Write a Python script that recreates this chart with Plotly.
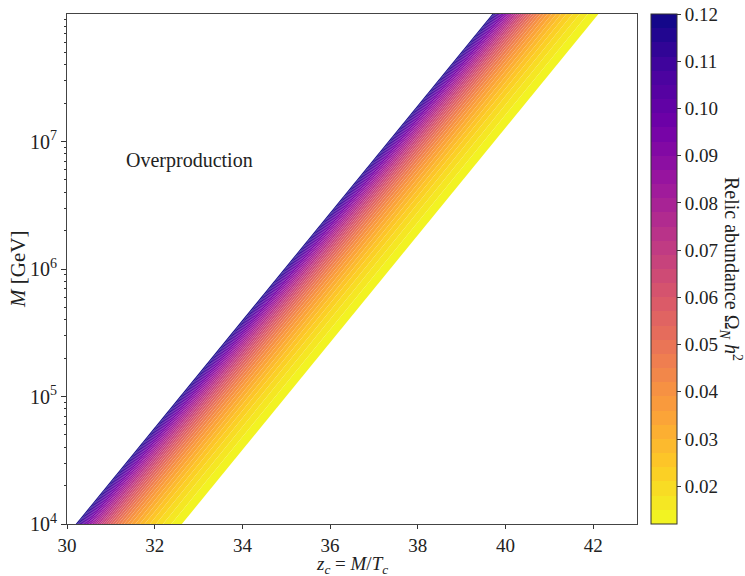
import plotly.graph_objects as go

# ---- data ----
# contour levels of the relic abundance (colorbar boundaries)
levels = [0.012, 0.015, 0.018, 0.021, 0.024, 0.027, 0.030, 0.033, 0.036, 0.039,
          0.042, 0.045, 0.048, 0.051, 0.054, 0.057, 0.060, 0.063, 0.066, 0.069,
          0.072, 0.075, 0.078, 0.081, 0.084, 0.087, 0.090, 0.093, 0.096, 0.099,
          0.102, 0.105, 0.108, 0.111, 0.114, 0.117, 0.120]
# z_c where each level crosses M = 1e4 GeV
z_at_low = [32.62, 32.38, 32.19, 32.03, 31.89, 31.77, 31.66, 31.56, 31.46, 31.38,
            31.30, 31.23, 31.16, 31.10, 31.04, 30.98, 30.93, 30.88, 30.83, 30.78,
            30.74, 30.69, 30.65, 30.61, 30.57, 30.54, 30.50, 30.47, 30.43, 30.40,
            30.37, 30.34, 30.31, 30.28, 30.25, 30.23, 30.20]
# z_c where each level crosses M = 1e8 GeV
z_at_high = [42.12, 41.88, 41.69, 41.53, 41.39, 41.27, 41.16, 41.06, 40.96, 40.88,
             40.80, 40.73, 40.66, 40.60, 40.54, 40.48, 40.43, 40.38, 40.33, 40.28,
             40.24, 40.19, 40.15, 40.11, 40.07, 40.04, 40.00, 39.97, 39.93, 39.90,
             39.87, 39.84, 39.81, 39.78, 39.75, 39.73, 39.70]
M_low, M_high = 1e4, 1e8

cbar_ticks = [0.02, 0.03, 0.04, 0.05, 0.06, 0.07, 0.08, 0.09, 0.10, 0.11, 0.12]
y_ticks = [1e4, 1e5, 1e6, 1e7]
y_ticktext = ["10<sup>4</sup>", "10<sup>5</sup>", "10<sup>6</sup>", "10<sup>7</sup>"]
x_ticks = [30, 32, 34, 36, 38, 40, 42]

# ---- plasma colormap (reversed use) ----
plasma = ['#0d0887', '#46039f', '#7201a8', '#9c179e', '#bd3786',
          '#d8576b', '#ed7953', '#fb9f3a', '#fdca26', '#f0f921']


def hex2rgb(h):
    h = h.lstrip('#')
    return tuple(int(h[i:i + 2], 16) for i in (0, 2, 4))


def plasma_at(t):
    t = min(max(t, 0.0), 1.0)
    p = t * (len(plasma) - 1)
    i = min(int(p), len(plasma) - 2)
    f = p - i
    a, b = hex2rgb(plasma[i]), hex2rgb(plasma[i + 1])
    c = [round(a[k] + (b[k] - a[k]) * f) for k in range(3)]
    return f"rgb({c[0]},{c[1]},{c[2]})"


vmin, vmax = levels[0], levels[-1]
nb = len(levels) - 1
band_colors = []
for i in range(nb):
    mid = 0.5 * (levels[i] + levels[i + 1])
    t = (mid - vmin) / (vmax - vmin)
    band_colors.append(plasma_at(1 - t))  # plasma_r

fig = go.Figure()
for i in range(nb):
    fig.add_trace(go.Scatter(
        x=[z_at_low[i], z_at_low[i + 1], z_at_high[i + 1], z_at_high[i], z_at_low[i]],
        y=[M_low, M_low, M_high, M_high, M_low],
        mode="lines", fill="toself", fillcolor=band_colors[i],
        line=dict(width=0, color=band_colors[i]),
        hoverinfo="skip", showlegend=False))

# discrete colorscale for the colorbar
cs = []
for i in range(nb):
    cs.append([i / nb, band_colors[i]])
    cs.append([(i + 1) / nb, band_colors[i]])

fig.add_trace(go.Scatter(
    x=[None, None], y=[None, None], mode="markers",
    marker=dict(color=[vmin, vmax], cmin=vmin, cmax=vmax, colorscale=cs,
                showscale=True, size=0.1,
                colorbar=dict(x=(651 - 67) / 570, xanchor="left", xref="paper",
                              y=0.5, yanchor="middle", len=1, lenmode="fraction",
                              thickness=26, thicknessmode="pixels",
                              xpad=0, ypad=0, outlinewidth=1, outlinecolor="#333",
                              tickvals=cbar_ticks,
                              ticktext=[f"{v:.2f}" for v in cbar_ticks],
                              ticks="outside", ticklen=4, tickcolor="#333",
                              tickfont=dict(size=19, color="#222"))),
    hoverinfo="skip", showlegend=False))

font = "Liberation Serif"
fig.update_layout(
    width=745, height=576,
    margin=dict(l=67, r=108, t=14, b=52),
    paper_bgcolor="white", plot_bgcolor="white",
    font=dict(family=font, size=19, color="#222"),
    xaxis=dict(range=[30, 43], tickvals=x_ticks, ticks="outside", ticklen=4,
               tickcolor="#333", showgrid=False, zeroline=False,
               showline=True, linecolor="#444", linewidth=1, mirror=True,
               tickfont=dict(size=19)),
    yaxis=dict(type="log", range=[4, 8], tickvals=y_ticks, ticktext=y_ticktext,
               ticks="outside", ticklen=5, tickcolor="#333",
               showgrid=False, zeroline=False,
               showline=True, linecolor="#444", linewidth=1, mirror=True,
               tickfont=dict(size=20),
               minor=dict(tickvals=[m * 10 ** e for e in range(4, 8) for m in range(2, 10)],
                          ticks="outside", ticklen=2.5, tickcolor="#333")),
    annotations=[
        dict(text="Overproduction", x=31.3, y=6.85, xref="x", yref="y",
             xanchor="left", yanchor="middle", showarrow=False,
             font=dict(size=20, color="#222")),
        dict(text="<i>z<sub>c</sub></i> = <i>M</i>/<i>T<sub>c</sub></i>",
             x=0.5, y=-0.108, xref="paper", yref="paper",
             xanchor="center", yanchor="bottom", showarrow=False,
             font=dict(size=19, color="#222")),
        dict(text="<i>M</i> [GeV]", x=-0.086, y=0.5, xref="paper", yref="paper",
             xanchor="center", yanchor="middle", textangle=-90, showarrow=False,
             font=dict(size=21, color="#222")),
        dict(text="Relic abundance Ω<sub><i>N</i></sub> <i>h</i><sup>2</sup>",
             x=(731 - 67) / 570, y=0.5, xref="paper", yref="paper",
             xanchor="center", yanchor="middle", textangle=90, showarrow=False,
             font=dict(size=20, color="#222")),
    ],
)

fig.write_html("out.html")
